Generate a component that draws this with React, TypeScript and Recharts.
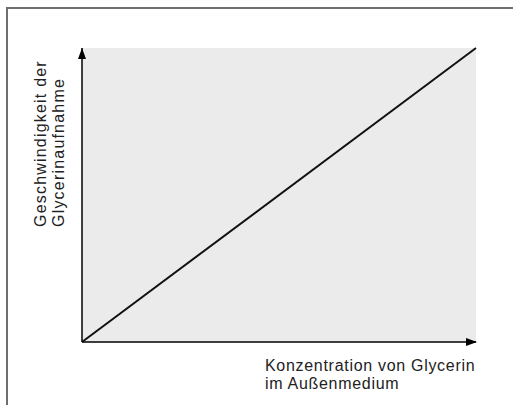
import React from 'react';
import { LineChart, Line, XAxis, YAxis, CartesianGrid, ReferenceDot, ReferenceLine } from 'recharts';

const xValues = [0, 10];
const yValues = [0, 10];
const yLabelLines = ['Geschwindigkeit der', 'Glycerinaufnahme'];
const xLabelLines = ['Konzentration von Glycerin', 'im Außenmedium'];

const data = xValues.map((x, i) => ({ x, y: yValues[i] }));

const FONT = '"Liberation Sans", Arial, Helvetica, sans-serif';
const FS = 16;

const ArrowUp = (props: any) => {
  const { cx, cy } = props;
  return <path d={`M${cx},${cy} L${cx - 4},${cy + 11} L${cx + 4},${cy + 11} Z`} fill="#000" />;
};
const ArrowRight = (props: any) => {
  const { cx, cy } = props;
  return <path d={`M${cx + 1},${cy} L${cx - 10},${cy - 4} L${cx - 10},${cy + 4} Z`} fill="#000" />;
};

const YLabel = (props: any) => {
  const { viewBox } = props;
  const x0 = viewBox.x;
  const y0 = 227;
  return (
    <g>
      {yLabelLines.map((t, i) => (
        <text
          key={t}
          x={0}
          y={0}
          transform={`translate(${x0 - 36 + i * 18},${y0}) rotate(-90)`}
          textAnchor="start"
          fontFamily={FONT}
          fontSize={FS}
          letterSpacing={1.2}
          fill="#222"
        >
          {t}
        </text>
      ))}
    </g>
  );
};

const XLabel = () => {
  return (
    <g>
      {xLabelLines.map((t, i) => (
        <text key={t} x={265} y={371 + i * 18} textAnchor="start" fontFamily={FONT} fontSize={FS} letterSpacing={0.7} fill="#222">
          {t}
        </text>
      ))}
    </g>
  );
};

export default function App() {
  return (
    <div style={{ position: 'absolute', left: 0, top: 0, width: 513, height: 405, overflow: 'hidden', background: '#fff' }}>
      <div style={{ position: 'absolute', left: 6, top: 7, width: 540, height: 440, border: '2px solid #6e6e6e', boxSizing: 'border-box' }} />
      <div style={{ position: 'absolute', left: 0, top: 0 }}>
        <LineChart width={513} height={405} data={data} margin={{ top: 48, right: 37, bottom: 63, left: 82 }}>
          <CartesianGrid fill="#ebebeb" horizontal={false} vertical={false} stroke="none" />
          <XAxis type="number" dataKey="x" domain={[0, 10]} hide />
          <YAxis type="number" domain={[0, 10]} hide />
          <ReferenceLine x={0} stroke="#000" strokeWidth={1.5} ifOverflow="visible" label={<YLabel />} />
          <ReferenceLine y={0} stroke="#000" strokeWidth={1.5} ifOverflow="visible" label={<XLabel />} />
          <Line type="linear" dataKey="y" stroke="#111" strokeWidth={2} dot={false} isAnimationActive={false} />
          <ReferenceDot x={0} y={10} r={0} shape={<ArrowUp />} ifOverflow="visible" />
          <ReferenceDot x={10} y={0} r={0} shape={<ArrowRight />} ifOverflow="visible" />
        </LineChart>
      </div>
    </div>
  );
}
